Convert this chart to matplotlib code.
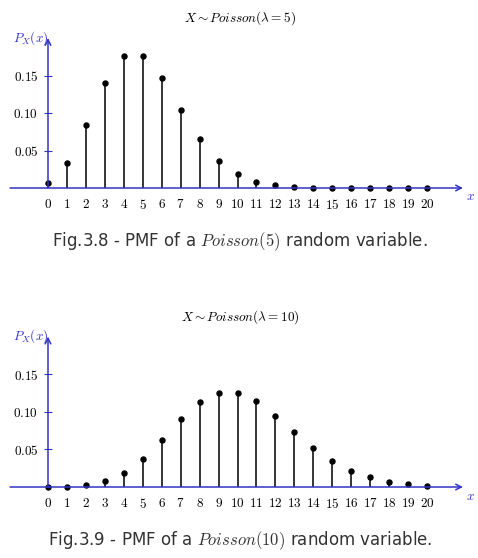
import matplotlib
matplotlib.use("Agg")
import matplotlib.pyplot as plt

plt.rcParams['mathtext.fontset'] = 'cm'
plt.rcParams['font.family'] = ['DejaVu Sans']

# values
k = list(range(21))
pmf_5 = [0.0067, 0.0337, 0.0842, 0.1404, 0.1755, 0.1755, 0.1462, 0.1044, 0.0653,
         0.0363, 0.0181, 0.0082, 0.0034, 0.0013, 0.0005, 0.0002, 0.0001, 0.0, 0.0, 0.0, 0.0]
pmf_10 = [0.0000, 0.0005, 0.0023, 0.0076, 0.0189, 0.0378, 0.0631, 0.0901, 0.1126,
          0.1251, 0.1251, 0.1137, 0.0948, 0.0729, 0.0521, 0.0347, 0.0217, 0.0128,
          0.0071, 0.0037, 0.0019]
y_ticks = [0.05, 0.10, 0.15]
y_tick_labels = ['0.05', '0.10', '0.15']

W, H = 478, 558
BLUE = '#3333c4'


def panel(fig, base_px, scale, vals, title, caption):
    # pixel layout: x data 0 at px 48, 18.95 px per unit
    left_px, right_px = 10, 472
    top_px, bot_px = base_px - 160, base_px + 14
    ax = fig.add_axes([left_px / W, 1 - bot_px / H,
                       (right_px - left_px) / W, (bot_px - top_px) / H])
    ax.set_xlim((left_px - 48) / 18.95, (right_px - 48) / 18.95)
    ax.set_ylim(-(bot_px - base_px) / scale, (base_px - top_px) / scale)

    ax.vlines(k, 0, vals, color='black', lw=1.1, zorder=2)
    ax.plot(k, vals, 'o', color='black', ms=3.6, zorder=3)

    x_tip = (463 - 48) / 18.95
    ax.annotate('', xy=(x_tip, 0), xytext=(-2.0, 0),
                arrowprops=dict(arrowstyle='->', color=BLUE, lw=1.1,
                                shrinkA=0, shrinkB=0))
    ax.annotate('', xy=(0, 0.2), xytext=(0, 0),
                arrowprops=dict(arrowstyle='->', color=BLUE, lw=1.1,
                                shrinkA=0, shrinkB=0))

    for s in ax.spines.values():
        s.set_visible(False)
    ax.spines['left'].set_position(('data', 0))
    ax.spines['bottom'].set_position(('data', 0))

    ax.set_xticks(k)
    ax.set_xticklabels(['$%d$' % i for i in k], fontsize=9.5)
    ax.tick_params(axis='x', length=0, pad=7)
    ax.set_yticks(y_ticks)
    ax.set_yticklabels(['$%s$' % t for t in y_tick_labels], fontsize=9.5)
    ax.tick_params(axis='y', length=6, direction='inout', color=BLUE, width=0.8, pad=4)
    ax.set_facecolor('none')

    ax.text(0, 0.2, r'$P_X(x)$', color=BLUE, fontsize=9.5, ha='right', va='center')
    ax.text(x_tip + 0.15, -0.016 * 0.75, r'$x$', color=BLUE, fontsize=9.5,
            ha='left', va='center')

    fig.text(240 / W, 1 - (base_px - 170) / H, title, fontsize=9.5,
             ha='center', va='center')
    fig.text(240 / W, 1 - (base_px + 54) / H, caption, fontsize=12,
             ha='center', va='center', color='#333333')


fig = plt.figure(figsize=(W / 100, H / 100), dpi=100)
panel(fig, 188, 750, pmf_5, r'$X \sim Poisson(\lambda = 5)$',
      r'Fig.3.8 - PMF of a $Poisson(5)$ random variable.')
panel(fig, 487, 752, pmf_10, r'$X \sim Poisson(\lambda = 10)$',
      r'Fig.3.9 - PMF of a $Poisson(10)$ random variable.')
fig.savefig('out.png', dpi=100, facecolor='white')
